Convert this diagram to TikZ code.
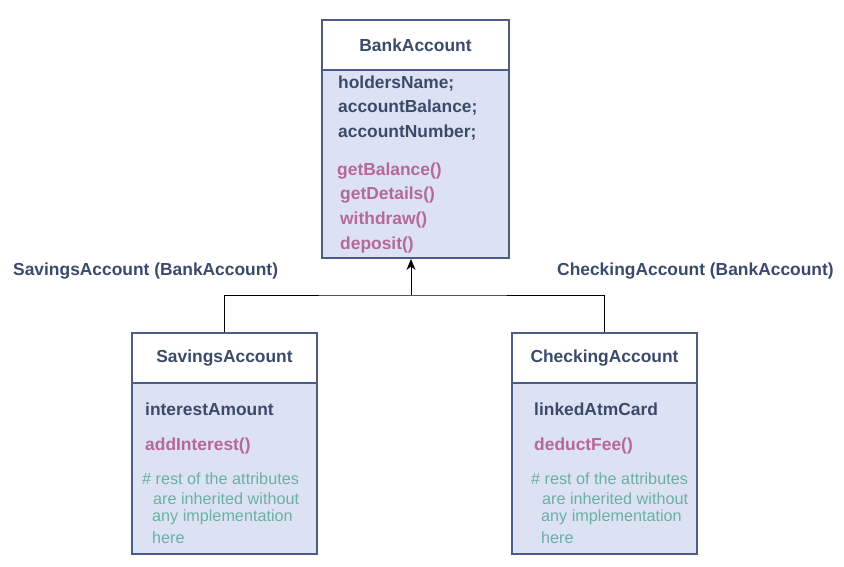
\documentclass[tikz,border=0pt]{standalone}
\usepackage{fontspec}
\setmainfont{Liberation Sans}
\usetikzlibrary{arrows.meta}
\definecolor{ink}{HTML}{3B4A6B}
\definecolor{boxline}{HTML}{4C5C87}
\definecolor{boxfill}{HTML}{DCE2F3}
\definecolor{methcol}{HTML}{B5689A}
\definecolor{notecol}{HTML}{6BB0A3}
\tikzset{
  header/.style={draw=boxline,line width=2pt,fill=white,anchor=north west,minimum height=50pt,
    font=\bfseries\fontsize{17.4}{20}\selectfont,text=ink},
  classbody/.style={draw=boxline,line width=2pt,fill=boxfill,anchor=north west},
  attr/.style={anchor=west,inner sep=0pt,yshift=-2pt,font=\bfseries\fontsize{17.4}{20}\selectfont,text=ink},
  meth/.style={attr,text=methcol},
  note/.style={anchor=west,inner sep=0pt,yshift=-1.5pt,font=\fontsize{16.2}{19}\selectfont,text=notecol},
  conn/.style={draw=black,line width=.8pt}
}
\begin{document}
\begin{tikzpicture}[x=1pt,y=-1pt]
\useasboundingbox(0,0)rectangle(844,567);
% BankAccount
\node[header,minimum width=187pt](bank)at(321,19){BankAccount};
\node[classbody,minimum width=187pt,minimum height=188pt](bankbody)at(321,69){};
\node[attr](holders)at(338,82){holdersName;};
\node[attr](balance)at(338,106){accountBalance;};
\node[attr](number)at(338,131){accountNumber;};
\node[meth](getbal)at(337,169){getBalance()};
\node[meth](getdet)at(340,193){getDetails()};
\node[meth](withdraw)at(340,218){withdraw()};
\node[meth](deposit)at(340,243){deposit()};
% SavingsAccount
\node[header,minimum width=185pt](sav)at(131,332){SavingsAccount};
\node[classbody,minimum width=185pt,minimum height=171pt](savbody)at(131,382){};
\node[attr](interest)at(145,407){interestAmount};
\node[meth](addint)at(145,444){addInterest()};
\node[note](savnoteA)at(142,477){\# rest of the attributes};
\node[note](savnoteB)at(153,497){are inherited without};
\node[note](savnoteC)at(152,516){any implementation};
\node[note](savnoteD)at(152,536){here};
% CheckingAccount
\node[header,minimum width=185pt](chk)at(511,332){CheckingAccount};
\node[classbody,minimum width=185pt,minimum height=171pt](chkbody)at(511,382){};
\node[attr](atmcard)at(534,407){linkedAtmCard};
\node[meth](fee)at(534,444){deductFee()};
\node[note](chknoteA)at(531,477){\# rest of the attributes};
\node[note](chknoteB)at(542,497){are inherited without};
\node[note](chknoteC)at(541,516){any implementation};
\node[note](chknoteD)at(541,536){here};
% labels
\node[attr](savlabel)at(13,269){SavingsAccount (BankAccount)};
\node[attr](chklabel)at(557,269){CheckingAccount (BankAccount)};
% inheritance
\coordinate(fork)at(411,295);
\draw[conn,-{Stealth[length=11pt,width=9pt]}](fork)--(fork|-bankbody.south);
\draw[conn](sav.north)|-(fork)-|(chk.north);
\end{tikzpicture}
\end{document}
